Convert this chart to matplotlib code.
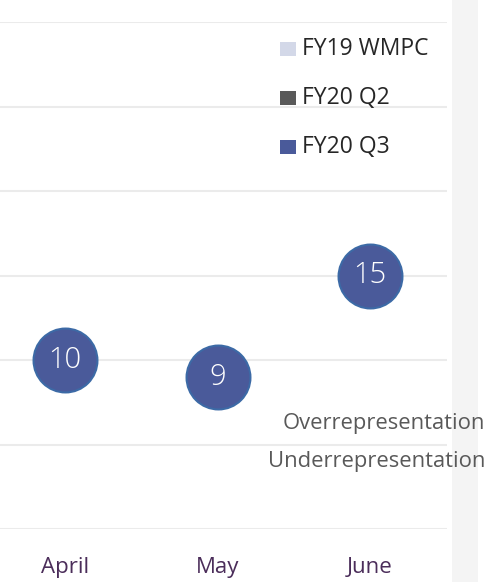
import matplotlib.pyplot as plt
from matplotlib.patches import Rectangle

months = ['April', 'May', 'June']
fy20_q3 = [10, 9, 15]
legend_labels = ['FY19 WMPC', 'FY20 Q2', 'FY20 Q3']
legend_colors = ['#D3D8E8', '#595959', '#4A5A9A']
y_ticks = [0, 5, 10, 15, 20, 25, 30]

plt.rcParams['font.family'] = ['Open Sans', 'DejaVu Sans']

fig = plt.figure(figsize=(4.9, 5.82), dpi=100)
# light grey strip on the right
fig.patches.append(Rectangle((452/490, 0), 26/490, 1, transform=fig.transFigure,
                             facecolor='#F4F4F4', edgecolor='none', zorder=0))

ax = fig.add_axes([0, 53/582, 447/490, (529-22)/582])
x = list(range(len(months)))
ax.scatter(x, fy20_q3, s=2116, color='#4A5A9A', edgecolors='#3C6AA6',
           linewidths=1.5, zorder=3, clip_on=False)
for xi, v in zip(x, fy20_q3):
    ax.text(xi, v, str(v), color='white', fontsize=21, fontweight='light',
            ha='center', va='center', zorder=4)

ax.set_xlim(-65/152.5, -65/152.5 + 447/152.5)
ax.set_ylim(0, 30)
ax.set_yticks(y_ticks)
ax.yaxis.grid(True, color='#EBEBEB', linewidth=1.5)
ax.set_axisbelow(True)
ax.tick_params(axis='y', left=False, labelleft=False)
ax.set_xticks(x)
ax.set_xticklabels(months, color='#4B2D5A', fontsize=16)
ax.tick_params(axis='x', bottom=False, pad=17)
for sp in ax.spines.values():
    sp.set_visible(False)

# legend drawn by hand to keep its spacing
for i, (lab, col) in enumerate(zip(legend_labels, legend_colors)):
    yy = 1 - (49 + 49*i)/582
    fig.patches.append(Rectangle((280/490, yy - 7/582), 16/490, 14/582,
                                 transform=fig.transFigure, facecolor=col,
                                 edgecolor='none'))
    fig.text(302/490, yy, lab, fontsize=16.5, color='#262626', va='center', ha='left')

fig.text(485/490, 1 - 424/582, 'Overrepresentation', fontsize=15.8,
         color='#595959', ha='right', va='center')
fig.text(485/490, 1 - 462/582, 'Underrepresentation', fontsize=15.8,
         color='#595959', ha='right', va='center')

fig.savefig('out.png', dpi=100)
